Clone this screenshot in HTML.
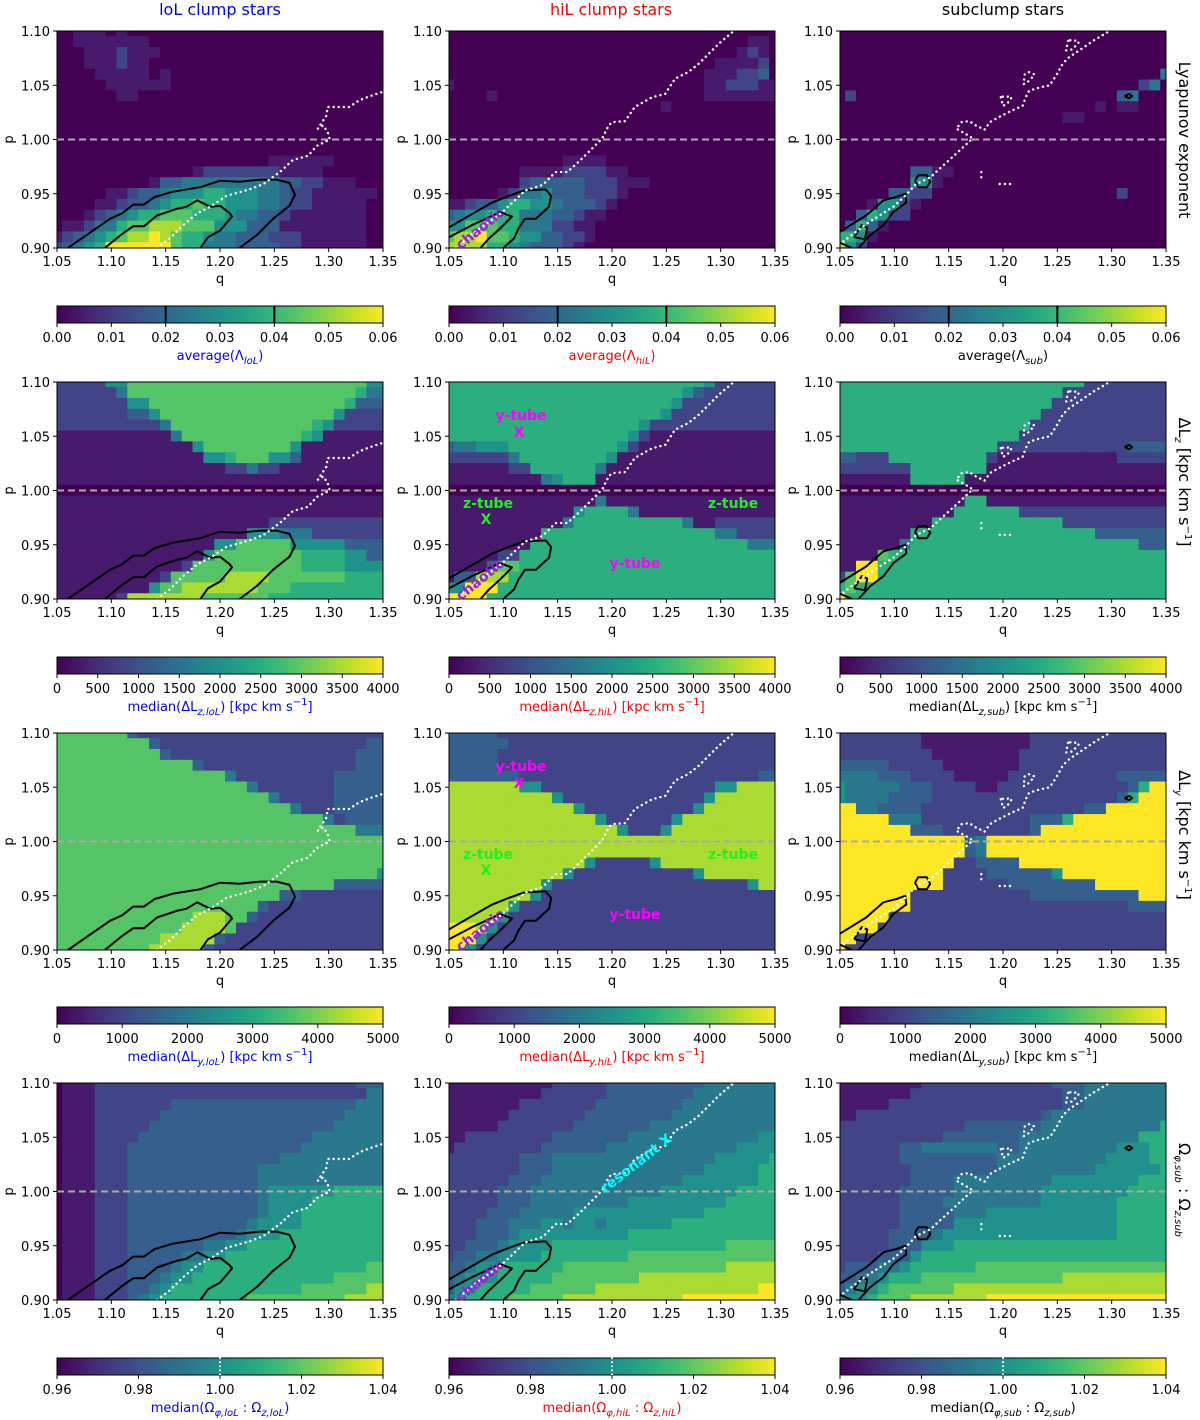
<!DOCTYPE html>
<html><head><meta charset="utf-8"><style>
html,body{margin:0;padding:0;background:#fff;}
svg{display:block;font-family:"DejaVu Sans","Liberation Sans",sans-serif;}
</style></head><body>
<svg id="fig" width="1200" height="1420" viewBox="0 0 1200 1420" xmlns="http://www.w3.org/2000/svg">
<defs>
<linearGradient id="vgrad" x1="0" x2="1" y1="0" y2="0">
<stop offset="0" stop-color="#440154"/><stop offset="0.1" stop-color="#482475"/><stop offset="0.2" stop-color="#414487"/><stop offset="0.3" stop-color="#355f8d"/><stop offset="0.4" stop-color="#2a788e"/><stop offset="0.5" stop-color="#21918c"/><stop offset="0.6" stop-color="#22a884"/><stop offset="0.7" stop-color="#44bf70"/><stop offset="0.8" stop-color="#7ad151"/><stop offset="0.9" stop-color="#bddf26"/><stop offset="1" stop-color="#fde725"/>
</linearGradient>
</defs>
<rect x="0" y="0" width="1200" height="1420" fill="#fff"/>
<text x="220" y="15" text-anchor="middle" font-size="16" fill="#0000ff">loL clump stars</text>
<text x="611" y="15" text-anchor="middle" font-size="16" fill="#ff0000">hiL clump stars</text>
<text x="1003" y="15" text-anchor="middle" font-size="16" fill="#000">subclump stars</text>
</svg>
<script>
// ---- data: heatmap levels (rows p=1.10 -> 0.90, cols q=1.05 -> 1.35), level index 0-9
const LEVELS = [0, 0.07, 0.2, 0.3, 0.4, 0.5, 0.63, 0.73, 0.87, 1.0];
const lyapLoL = [
"0011101000000000000000000000000","0011111110000000000000000000000","0001112111000000000000000000000","0001112110000000000000000000000","0000111110100000000000000000000","0000011111100000000000000000000","0000001100000000000000000000000","0000000000000000000000000000000","0000000000000000000000000000000","0000000000000000000000000000000","0000000000000000000000000000000","0000000000000000000000000000000","0000000000000000000011111100000",
"0000000000000122222221111000000","0000000001334444444443322111000","0000011233455566555443221111110","0000112334566766555443221111100","0001234566777666544332111111100","0112446778887775553331111111100","1234567889876654433322211111100","2345699999976644433332211111100"];
const lyapHiL = [
"0000000000000000000000000000000","0000000000000000000000000000110","0000000000000000000000000001210","0000000000000000000000000111120","0000000000000000000000001112230","1000000000000000000000001122211","0000100000000000000000001111111","0000000000000000000010000000000","0000000000000000000000000000000","0000000000000000000000000000000","0000000000000000000000000000000","0000000000000000000000000000000","0000000000011110000000000000000",
"0000000111122221100000000000000","0000000233333222111000000000000","0000012445333222100000000000000","1123356655433321000000000000000","3455666444332110000000000000000","5577766444221100000000000000000","7889776553322100000000000000000","8888665433321000000000000000000"];
const lyapSub = [
"0000000000000000000000000000000","0000000000000000000000000000000","0000000000000000000000000000000","0000000000000000000000000000000","0000000000000000000000000000004","0000000000000000000000000000240","0200000000000000000000000034000","0000000000000000000000001011000","0000000000000000000001100000000","0000000000000000000000000000000","0000000000000000000000000000000","0000000000000000000000000000000","0000000000000000000000000000000",
"0000000331100000000000000000000","0000000551000000000000000000000","0000033220000000000000000020000","0001552100000000000000000000000","0036522000000000000000000000000","0363100000000000000000000000000","6651000000000000000000000000000","8520000000000000000000000000000"];
const dLzLoL = [
"2222255777777777777777777777755","2222224777777777777777777777644","2222222557777777777777777776333","2222222335777777777777777752222","2222222222477777777777776522222","1111111111147777777777765111111","1111111111111577777777511111111","1111111111111155677755311111111","1111111111111111224221111111111","1111111111111111111111111111111","0000000000000000000000000000000","1111111111111111111111111111111","1111111111111111111111111111111",
"1111111111111111111122222222222","1111111111111111115554442222222","1111111111111115577777555553333","1111111111111157777777766665533","1111111111112777777777766665555","1111111111277777888877777776666","1111111115778888888777666666666","1111112888888877777766666666666"];
const dLzHiL = [
"6666666666666666666666665222222","6666666666666666666666532222222","6666666666666666666665222222222","6666666666666666666652222222222","6666666666666666665222222222222","6666666666666666652111111111111","3445556666666666521111111111111","2222224666666665111111111111111","1111112266666641111111111111111","1111111114566611111111111111111","0000000000000000000000000000000","1111111111111141111111111111111","1111111111115666641111111111111",
"1111111111146666666666411222222","1111111116666666666666666442222","1111111166666666666666666666444","1111122666666666666666666666666","1111377666666666666666666666666","1338886666666666666666666666666","5599966666666666666666666666666","9999666666666666666666666666666"];
const dLzSub = [
"6666666666666666666666622222222","6666666666666666666662222222222","6666666666666666666622222222222","6666666666666666666222222222222","6666666666666666662222222222222","6666666666666666622222222222222","6666666666666662222222222223333","3322266666666621111111111122222","2222222666666611111111111111111","1111111666661111111111111111111","0000000000000000000000000000000","1111111111116611111111111111111","1111111111166666622222222222222",
"1111111116666666666662222222222","1111111666666666666666663333333","1111114666666666666666666666333","1111766666666666666666666666666","1199666666666666666666666666666","2799666666666666666666666666666","6766666666666666666666666666666","9666666666666666666666666666666"];
const dLyLoL = [
"7777777322222222222222222222222","7777777773222222222222222222233","7777777777322222222222222222333","7777777777777322222222222222333","7777777777777777422222222233333","7777777777777777774222222233333","7777777777777777777742222233333","7777777777777777777777422233333","7777777777777777777777777423333","7777777777777777777777777777444","7777777777777777777777777777777","7777777777777777777777777777777","7777777777777777777777777777777",
"7777777777777777777777777777775","7777777777777777777777777733333","7777777777777777777773322222222","7777777777777777777322222222222","7777777777777888773222222222222","7777777777778888722222222222222","7777777777888883222222222222222","7777777778888832222222222222222"];
const dLyHiL = [
"3333322222222222222222222222222","3333332222222222222222222222222","3333322222222222222222222222222","3333322222222222222222222222222","3333333222222222222222222222233","8888888552222222222222222558888","8888888888522222222222225888888","8888888888885222222222258888888","8888888888888852222225888888888","8888888888888888522258888888888","8888888888888888888888888888888","8888888888888888888888888888888","8888888888888522222588888888888",
"8888888888852222222222258888888","8888888885222222222222222222588","8888888852222222222222222222222","8888885222222222222222222222222","8888852222222222222222222222222","9998522222222222222222222222222","9995222222222222222222222222222","9952222222222222222222222222222"];
const dLySub = [
"2222222211111111112222222222222","2222222211111111112222222222222","2222222221111111122222222222222","3333322222111111122222222222222","4444333222211111222222222233333","5444443332222112222222222223699","5444433332222222222222222236999","9944333322222222222222233999999","9999944422222222223336999999999","9999999333222222223999999999999","9999999999993499999999999999999","9999999999993499999999999999999","9999999999922333399999999999999",
"9999999999222233333359999999999","9999999999222222333333339999999","9999999222222222223333333333999","9999999222222222222222222223333","9999922222222222222222222222222","9999222222222222222222222222222","9922222222222222222222222222222","9222222222222222222222222222222"];
const omegaLoL = [
"0111222222222222222222222222333","0111222222222222222222222222244","0111222222233333333333333333444","0111222222333333333333333334444","0111222223333333333333333344444","0111222233333333333333334444444","0111222333333333333333344444444","0111222333333333333334444444444","0111222333333333333444444444444","0111222333333333333444444444444","0111222333333333333455555566666","0111222333333333333455556666666","0111222333333333333455566666666",
"0111222333333333334555566666666","0111222333333333345556666666666","0111222333333344556666666666666","0111222333334455666666666666666","0111222333345566666666666666677","0111222333455666666666666677777","0111222334566666666666677777788","0111222345666666667777777778888"];
const omegaHiL = [
"1111111111222223333333334444444","1111111112222223333333344444444","1111111222222233333333444444444","1111112222222333333334444444444","1111122222223333333444444444444","1122222222333333344444444444455","1222222223333334444444444445555","2222222333444444444444444555556","2222222333444444444444445555566","2222223334444444444444555555566","2222233344444444444455555556666","2222233344444444455555555566666","2222333444445555555555556666666",
"2223334445545545555556666666666","2223334555555555566666666666666","2233345555666666666666666677777","2334455556666666677777777777777","3345566666677777777777777788888","3455566666777777778888888888888","3556666677777788888888888888899","4566667777788888888888999999999"];
const omegaSub = [
"1111111122222222222233344444444","1111111222222222222223344444444","1111122222222222222223344444444","1122222222222222222344444444444","2222222222223333333444444444446","2222222222333333344444444444666","2222223344444443344444444455566","2222223333333334444444444555566","2222222333333334444444445555556","2222222333344444444455555555666","2222223333344444444555555556666","2222223333444444444555555566666","2222223333344455555555555566666",
"2222223333355555555555555566666","2222233334555555555555555566666","2222233355566666666666666666666","2222333566666666666666666666666","2333445666666777777777777777777","3344566677777777777778888888888","3455677777788888888888888888888","4556777888888899999999999999999"];

// colorbar ranges and ticks
const cbMin = [0, 0, 0, 0.96];
const cbMax = [0.06, 4000, 5000, 1.04];
const cbTicks0 = ["0.00","0.01","0.02","0.03","0.04","0.05","0.06"];
const cbTicks1 = ["0","500","1000","1500","2000","2500","3000","3500","4000"];
const cbTicks2 = ["0","1000","2000","3000","4000","5000"];
const cbTicks3 = ["0.96","0.98","1.00","1.02","1.04"];
const xTicks = [1.05,1.10,1.15,1.20,1.25,1.30,1.35];
const yTicks = [0.90,0.95,1.00,1.05,1.10];

// overlay curves in (q,p)
const contourLoLOuter = [[1.060,0.900],[1.099,0.927],[1.110,0.932],[1.120,0.940],[1.130,0.940],[1.140,0.947],[1.157,0.952],[1.182,0.956],[1.200,0.962],[1.218,0.961],[1.237,0.963],[1.252,0.963],[1.264,0.960],[1.269,0.949],[1.264,0.939],[1.249,0.927],[1.234,0.912],[1.218,0.900]];
const contourLoLInner = [[1.094,0.900],[1.110,0.913],[1.120,0.920],[1.130,0.920],[1.142,0.930],[1.160,0.936],[1.169,0.938],[1.179,0.944],[1.191,0.938],[1.200,0.939],[1.209,0.932],[1.211,0.929],[1.200,0.916],[1.189,0.910],[1.182,0.900]];
const resonanceLoL = [[1.142,0.900],[1.154,0.909],[1.166,0.921],[1.179,0.932],[1.191,0.938],[1.206,0.948],[1.227,0.954],[1.240,0.959],[1.255,0.970],[1.267,0.981],[1.281,0.985],[1.289,0.994],[1.301,1.000],[1.299,1.007],[1.295,1.013],[1.290,1.010],[1.298,1.022],[1.299,1.030],[1.319,1.030],[1.328,1.036],[1.338,1.040],[1.350,1.044]];
const contourHiLOuter = [[1.050,0.919],[1.074,0.933],[1.090,0.942],[1.105,0.948],[1.119,0.953],[1.139,0.954],[1.144,0.948],[1.142,0.938],[1.130,0.927],[1.120,0.927],[1.114,0.918],[1.110,0.909],[1.100,0.900]];
const contourHiLInner = [[1.050,0.910],[1.071,0.921],[1.097,0.933],[1.108,0.929],[1.097,0.918],[1.087,0.909],[1.079,0.900]];
const resonanceHiL = [[1.056,0.900],[1.074,0.915],[1.099,0.933],[1.120,0.953],[1.136,0.958],[1.148,0.970],[1.159,0.970],[1.172,0.982],[1.191,1.001],[1.197,1.013],[1.200,1.016],[1.212,1.017],[1.221,1.030],[1.237,1.039],[1.249,1.042],[1.258,1.056],[1.270,1.062],[1.280,1.070],[1.298,1.088],[1.312,1.100]];
const contourSubOuter = [[1.050,0.915],[1.074,0.930],[1.090,0.944],[1.102,0.947],[1.110,0.950],[1.111,0.942],[1.099,0.933],[1.090,0.921],[1.078,0.912],[1.067,0.900]];
const contourSubLoop = [[1.063,0.910],[1.070,0.921],[1.075,0.919],[1.073,0.908],[1.063,0.910]];
const contourSubHex = [[1.119,0.962],[1.122,0.967],[1.130,0.967],[1.133,0.961],[1.130,0.956],[1.122,0.956],[1.119,0.962]];
const contourSubCorner = [[1.050,0.905],[1.061,0.900]];
const contourSubSmall = [[1.312,1.040],[1.316,1.042],[1.319,1.040],[1.316,1.038],[1.312,1.040]];
const resonanceSub = [[1.053,0.906],[1.074,0.922],[1.099,0.938],[1.110,0.948],[1.120,0.959],[1.133,0.965],[1.145,0.976],[1.157,0.987],[1.172,1.001],[1.166,1.005],[1.157,1.010],[1.162,1.016],[1.169,1.017],[1.175,1.013],[1.183,1.009],[1.188,1.016],[1.197,1.021],[1.211,1.028],[1.218,1.031],[1.221,1.039],[1.224,1.045],[1.234,1.048],[1.243,1.050],[1.249,1.059],[1.255,1.070],[1.261,1.076],[1.270,1.082],[1.283,1.091],[1.298,1.100]];
const resonanceSubLoop1 = [[1.198,1.039],[1.200,1.031],[1.204,1.033],[1.208,1.039],[1.202,1.040],[1.198,1.039]];
const resonanceSubLoop2 = [[1.220,1.060],[1.219,1.051],[1.224,1.054],[1.229,1.060],[1.224,1.062],[1.220,1.060]];
const resonanceSubLoop3 = [[1.260,1.091],[1.258,1.082],[1.264,1.083],[1.270,1.090],[1.264,1.092],[1.260,1.091]];
const resonanceSubDots1 = [[1.180,0.970],[1.180,0.965]];
const resonanceSubDots2 = [[1.197,0.959],[1.209,0.959]];

// ---- rendering
const NS = 'http://www.w3.org/2000/svg';
const svg = document.getElementById('fig');
const VIR = ['#440154','#482475','#414487','#355f8d','#2a788e','#21918c','#22a884','#44bf70','#7ad151','#bddf26','#fde725'];
function hex2rgb(h){return [parseInt(h.substr(1,2),16),parseInt(h.substr(3,2),16),parseInt(h.substr(5,2),16)];}
function vir(t){t=Math.max(0,Math.min(1,t));const s=t*10;const i=Math.min(9,Math.floor(s));const f=s-i;const a=hex2rgb(VIR[i]),b=hex2rgb(VIR[i+1]);return 'rgb('+a.map((v,k)=>Math.round(v+(b[k]-v)*f)).join(',')+')';}
function mk(tag,parent){const e=document.createElementNS(NS,tag);(parent||svg).appendChild(e);return e;}
function set(e,o){for(const k in o)e.setAttribute(k,o[k]);return e;}

const X0 = [57, 449, 840], Y0 = [31, 382, 733, 1083], W = 326, H = 217;
const CBY = [306, 657, 1007, 1358], CBH = 17;
const panelData = [[lyapLoL,lyapHiL,lyapSub],[dLzLoL,dLzHiL,dLzSub],[dLyLoL,dLyHiL,dLySub],[omegaLoL,omegaHiL,omegaSub]];
const cbTicks = [cbTicks0,cbTicks1,cbTicks2,cbTicks3];
const colNames = ['lol','hil','sub'];
const colSub = ['loL','hiL','sub'];
const colColor = ['#0000ff','#ff0000','#000000'];
const contoursByCol = [[contourLoLOuter,contourLoLInner],[contourHiLOuter,contourHiLInner],[contourSubOuter,contourSubLoop,contourSubHex,contourSubCorner,contourSubSmall]];
const resonanceByCol = [[resonanceLoL],[resonanceHiL],[resonanceSub,resonanceSubLoop1,resonanceSubLoop2,resonanceSubLoop3,resonanceSubDots1,resonanceSubDots2]];

function drawPanel(r,c){
  const x0=X0[c], y0=Y0[r];
  const xs=q=>x0+(q-1.05)/0.30*W;
  const ys=p=>y0+(1.10-p)/0.20*H;
  const g=mk('g');
  
  
  const cp=mk('clipPath');
  set(cp,{id:'cp'+r+c});
  const cr=mk('rect',cp); set(cr,{x:x0,y:y0,width:W,height:H});
  g.setAttribute('clip-path','url(#cp'+r+c+')');
  const rows=panelData[r][c];
  const mn=cbMin[r], mx=cbMax[r];
  for(let j=0;j<21;j++){
    let s=rows[j]||'';
    while(s.length<31) s+=s.length?s[s.length-1]:'0';
    for(let i=0;i<31;i++){
      const q=1.05+0.01*i, p=1.10-0.01*j;
      const val=mn+LEVELS[+s[i]]*(mx-mn);
      const rc=mk('rect',g);
      
      
      set(rc,{x:xs(q-0.005)-0.3,y:ys(p+0.005)-0.3,width:W/30+0.6,height:H/20+0.6,fill:vir((val-mn)/(mx-mn))});
    }
  }
  const dl=mk('line',g);
  
  
  set(dl,{x1:x0,x2:x0+W,y1:ys(1.0),y2:ys(1.0),stroke:'#aaaaaa','stroke-width':2,'stroke-dasharray':'7 4'});
  contoursByCol[c].forEach(line=>{
    const pl=mk('polyline',g);
    
    
    set(pl,{points:line.map(d=>xs(d[0]).toFixed(1)+','+ys(d[1]).toFixed(1)).join(' '),fill:'none',stroke:'#000','stroke-width':2,'stroke-linejoin':'round'});
  });
  resonanceByCol[c].forEach(line=>{
    const pl=mk('polyline',g);
    
    
    set(pl,{points:line.map(d=>xs(d[0]).toFixed(1)+','+ys(d[1]).toFixed(1)).join(' '),fill:'none',stroke:'#fff','stroke-width':2.4,'stroke-dasharray':'0.1 5','stroke-linecap':'round'});
  });
  const fr=mk('rect');
  
  
  set(fr,{x:x0,y:y0,width:W,height:H,fill:'none',stroke:'#000','stroke-width':1});
  xTicks.forEach(q=>{
    const t=mk('line');
    
    
    set(t,{x1:xs(q),x2:xs(q),y1:y0+H,y2:y0+H+4,stroke:'#000'});
    const tl=mk('text');
    
    
    set(tl,{x:xs(q),y:y0+H+18,'text-anchor':'middle','font-size':13});
    tl.textContent=q.toFixed(2);
  });
  yTicks.forEach(p=>{
    const t=mk('line');
    
    
    set(t,{x1:x0-4,x2:x0,y1:ys(p),y2:ys(p),stroke:'#000'});
    const tl=mk('text');
    
    
    set(tl,{x:x0-7,y:ys(p)+5,'text-anchor':'end','font-size':13});
    tl.textContent=p.toFixed(2);
  });
  const xl=mk('text');
  
  
  set(xl,{x:x0+W/2,y:y0+H+35,'text-anchor':'middle','font-size':13});
  xl.textContent='q';
  const yl=mk('text');
  
  
  set(yl,{x:0,y:0,'text-anchor':'middle','font-size':13,transform:'translate('+(x0-44)+','+(y0+H/2)+') rotate(-90)'});
  yl.textContent='p';
}

function rich(t,parts){
  parts.forEach(pt=>{
    const ts=mk('tspan',t);
    if(pt[1]==='sub'){set(ts,{'font-size':10,dy:4,'font-style':'italic'});}
    else if(pt[1]==='sup'){set(ts,{'font-size':10,dy:-6});}
    else if(pt[1]==='back-sub'){set(ts,{dy:-4});}
    else if(pt[1]==='back-sup'){set(ts,{dy:6});}
    ts.textContent=pt[0];
  });
}

function drawColorbar(r,c){
  const x0=X0[c], y=CBY[r];
  const cb=mk('rect');
  
  
  set(cb,{x:x0,y:y,width:W,height:CBH,fill:'url(#vgrad)',stroke:'#000','stroke-width':1});
  if(r===0){[1/3,2/3].forEach(f=>{
    const l=mk('line');
    
    
    set(l,{x1:x0+f*W,x2:x0+f*W,y1:y,y2:y+CBH,stroke:'#000','stroke-width':2});
  });}
  if(r===3){
    const l=mk('line');
    
    
    set(l,{x1:x0+W/2,x2:x0+W/2,y1:y,y2:y+CBH,stroke:'#fff','stroke-width':2,'stroke-dasharray':'0.1 4','stroke-linecap':'round'});
  }
  const tk=cbTicks[r];
  tk.forEach((s,k)=>{
    const tx=x0+k/(tk.length-1)*W;
    const t=mk('line');
    
    
    set(t,{x1:tx,x2:tx,y1:y+CBH,y2:y+CBH+4,stroke:'#000'});
    const tl=mk('text');
    
    
    set(tl,{x:tx,y:y+CBH+19,'text-anchor':'middle','font-size':13});
    tl.textContent=s;
  });
  const lb=mk('text');
  
  
  set(lb,{x:x0+W/2,y:y+CBH+37,'text-anchor':'middle','font-size':13,fill:colColor[c]});
  const s=colSub[c];
  if(r===0) rich(lb,[['average(Λ',''],[s,'sub'],[')','back-sub']]);
  if(r===1) rich(lb,[['median(ΔL',''],['z,'+s,'sub'],[') [kpc km s','back-sub'],['−1','sup'],[']','back-sup']]);
  if(r===2) rich(lb,[['median(ΔL',''],['y,'+s,'sub'],[') [kpc km s','back-sub'],['−1','sup'],[']','back-sup']]);
  if(r===3) rich(lb,[['median(Ω',''],['φ,'+s,'sub'],[' : Ω','back-sub'],['z,'+s,'sub'],[')','back-sub']]);
}

for(let r=0;r<4;r++)for(let c=0;c<3;c++){drawPanel(r,c);drawColorbar(r,c);}

// right-side row labels
const rowLabelY=[140,482,835,1190];
rowLabelY.forEach((yy,r)=>{
  const t=mk('text');
  
  
  set(t,{x:0,y:0,'text-anchor':'middle','font-size':16,transform:'translate(1179,'+yy+') rotate(90)'});
  if(r===0) rich(t,[['Lyapunov exponent','']]);
  if(r===1) rich(t,[['ΔL',''],['z','sub'],[' [kpc km s','back-sub'],['−1','sup'],[']','back-sup']]);
  if(r===2) rich(t,[['ΔL',''],['y','sub'],[' [kpc km s','back-sub'],['−1','sup'],[']','back-sup']]);
  if(r===3) rich(t,[['Ω',''],['φ,sub','sub'],[' : Ω','back-sub'],['z,sub','sub']]);
});

// annotations in hiL column
function ann(txt,x,y,color,rot,name){
  const t=mk('text');
  
  
  set(t,{x:0,y:0,'text-anchor':'middle','font-size':14,'font-weight':'bold',fill:color,transform:'translate('+x+','+y+') rotate('+rot+')'});
  t.textContent=txt;
}
for(let r=0;r<4;r++){
  ann('chaotic',X0[1]+34,Y0[r]+201,'#9b1ee0',-39,'chaotic-label');
}
[1,2].forEach(r=>{
  const y0=Y0[r], x0=X0[1];
  ann('y-tube',x0+72,y0+38,'#ff00ff',0,'y-tube-label');
  ann('X',x0+70,y0+55,'#ff00ff',0,'y-tube-marker');
  ann('z-tube',x0+39,y0+126,'#22ee22',0,'z-tube-label');
  ann('X',x0+37,y0+142,'#22ee22',0,'z-tube-marker');
  ann('z-tube',x0+284,y0+126,'#22ee22',0,'z-tube-label-right');
  ann('y-tube',x0+186,y0+186,'#ff00ff',0,'y-tube-label-lower');
});
ann('resonant X',X0[1]+190,Y0[3]+84,'#00ffff',-38,'resonant-label');
</script>
</body></html>
